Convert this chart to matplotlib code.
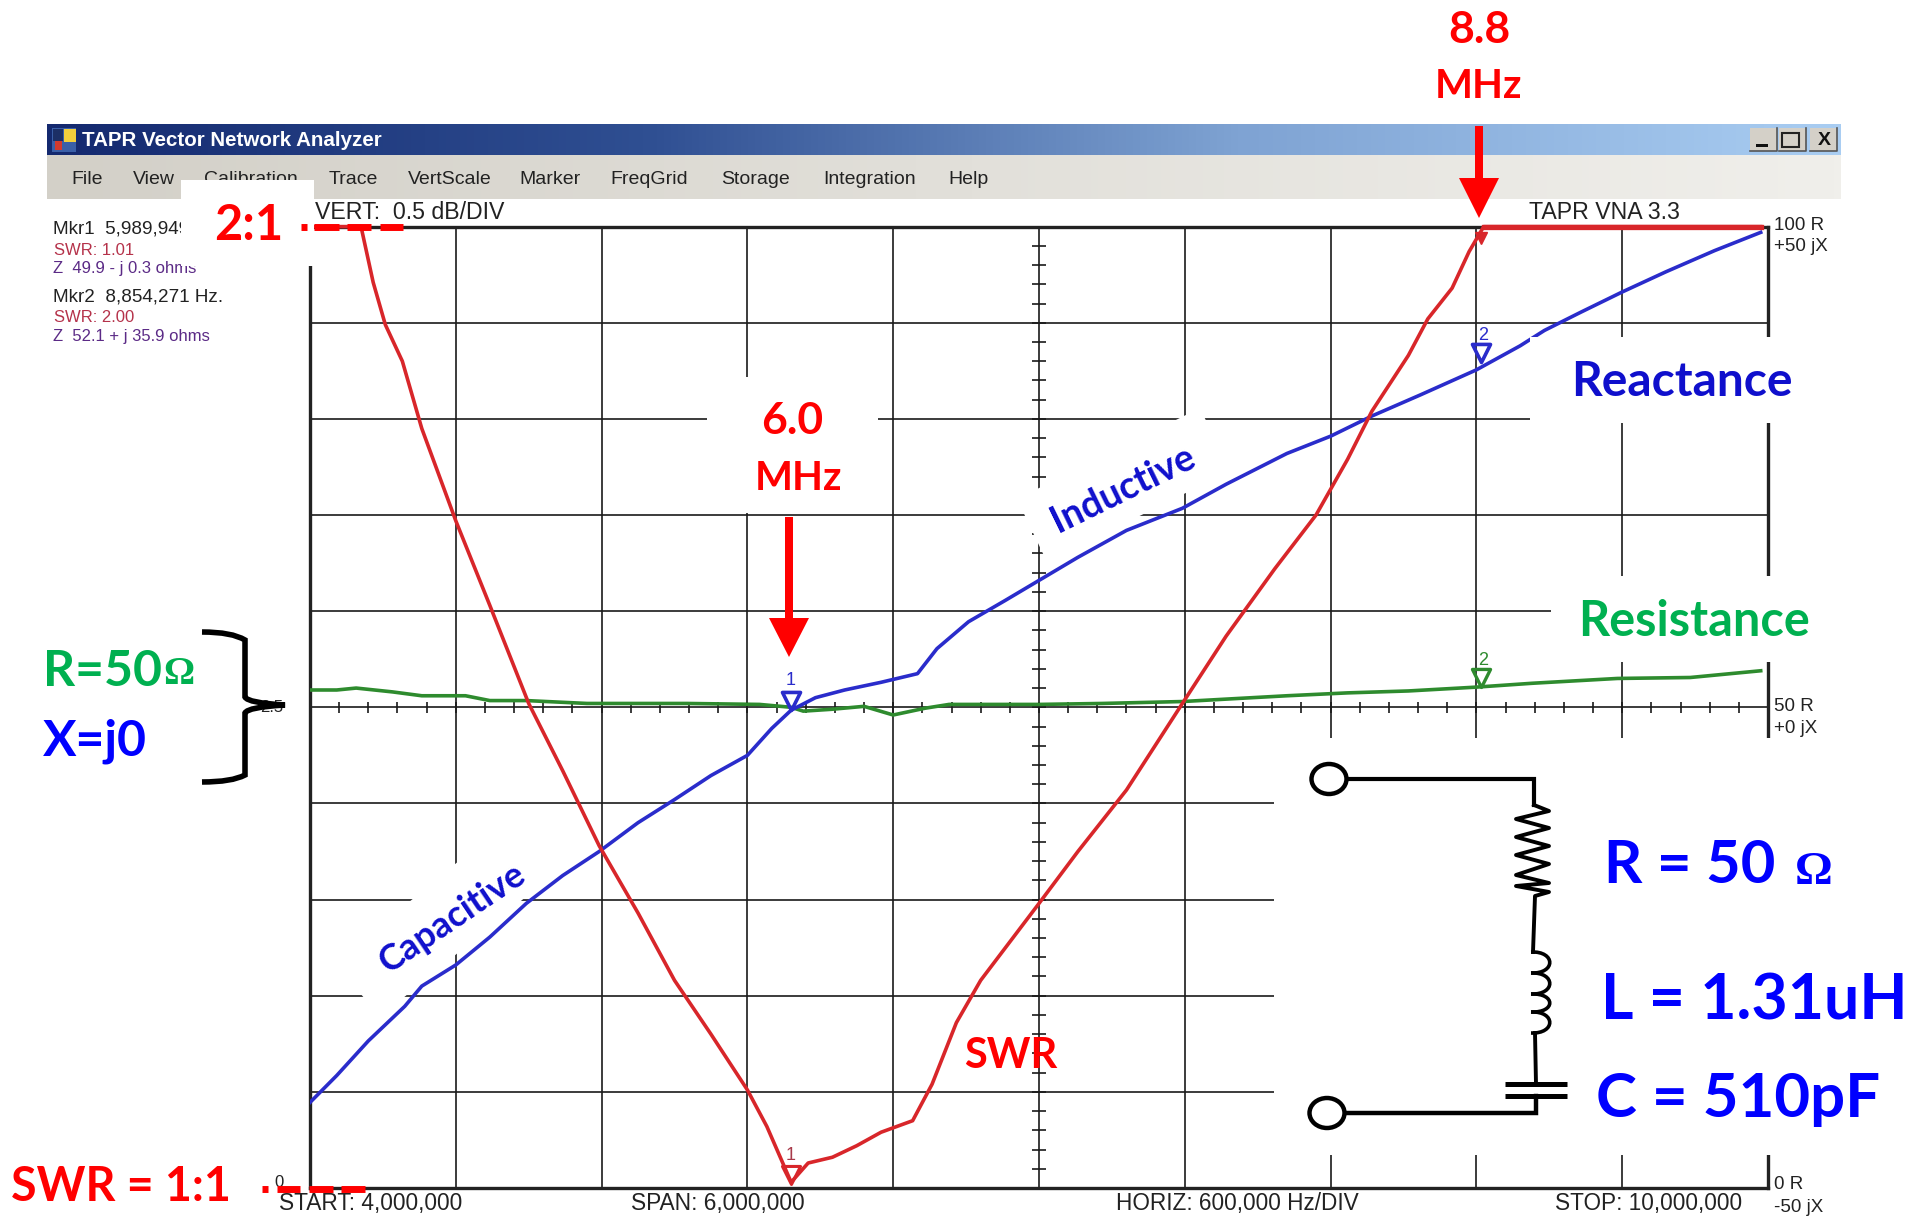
import numpy as np
import matplotlib
matplotlib.use("Agg")
import matplotlib.pyplot as plt
from matplotlib.patches import Rectangle, Polygon, Ellipse, PathPatch, FancyArrow
from matplotlib.path import Path

# reactance trace, ohms
x_freq = [4.00, 4.11, 4.24, 4.39, 4.46, 4.60, 4.74, 4.89, 5.04, 5.19, 5.35, 5.50, 5.65, 5.80, 5.90, 5.98,
          6.08, 6.20, 6.35, 6.50, 6.58, 6.71, 6.86, 7.00, 7.16, 7.36, 7.59, 7.77, 8.02, 8.20, 8.37, 8.57,
          8.80, 8.98, 9.08, 9.23, 9.40, 9.58, 9.78, 9.97]
x_ohm = [-41.1, -38.3, -34.7, -31.1, -29.0, -26.8, -23.9, -20.4, -17.5, -15.0, -12.0, -9.6, -7.1, -5.0, -2.2, -0.3,
         1.0, 1.8, 2.6, 3.5, 6.1, 8.9, 11.1, 13.2, 15.6, 18.4, 20.7, 23.2, 26.4, 28.2, 30.3, 32.5,
         35.1, 37.6, 39.2, 41.1, 43.2, 45.3, 47.5, 49.4]

# resistance trace, ohms
r_freq = [4.00, 4.11, 4.19, 4.34, 4.46, 4.64, 4.74, 4.89, 5.14, 5.55, 5.85, 5.98, 6.03, 6.15, 6.28, 6.40, 6.53,
          6.63, 7.00, 7.26, 7.59, 8.02, 8.27, 8.52, 8.80, 9.03, 9.38, 9.68, 9.97]
r_ohm = [51.8, 51.8, 52.0, 51.6, 51.2, 51.2, 50.7, 50.7, 50.4, 50.4, 50.3, 50.0, 49.6, 49.8, 50.1, 49.2, 49.9,
         50.3, 50.3, 50.4, 50.6, 51.2, 51.5, 51.7, 52.1, 52.5, 53.0, 53.1, 53.8]

# SWR trace on the 0.5 dB/DIV scale
swr_freq = [4.00, 4.21, 4.26, 4.31, 4.38, 4.46, 4.60, 4.74, 4.90, 5.04, 5.19, 5.35, 5.50, 5.65, 5.80, 5.88, 5.98,
            6.05, 6.15, 6.25, 6.35, 6.48, 6.56, 6.66, 6.76, 7.00, 7.16, 7.36, 7.59, 7.77, 7.97, 8.14, 8.27,
            8.37, 8.52, 8.60, 8.70, 8.77, 8.83, 9.97]
swr_db = [5.0, 5.0, 4.71, 4.49, 4.30, 3.95, 3.47, 3.03, 2.52, 2.17, 1.78, 1.43, 1.08, 0.80, 0.51, 0.32, 0.03,
          0.13, 0.16, 0.22, 0.29, 0.35, 0.54, 0.86, 1.08, 1.48, 1.75, 2.07, 2.52, 2.87, 3.22, 3.50, 3.79,
          4.04, 4.33, 4.52, 4.68, 4.87, 5.0, 5.0]

# markers
mkr_freq = [5.98, 8.82]
mkr_x = [-0.3, 35.9]
mkr_r = [49.9, 52.1]
mkr_swr = [0.02, 5.0]

menu_items = ["File", "View", "Calibration", "Trace", "VertScale", "Marker", "FreqGrid", "Storage", "Integration", "Help"]
menu_x = [87, 154, 251, 353, 450, 550, 649, 756, 870, 969]

W, H = 1921, 1217
RED = "#ff0000"
GREEN = "#00b050"
BLUE = "#0000ff"
DBLUE = "#0f0fcc"
SCREEN = ["Liberation Sans"]
NOTE = ["Lato", "DejaVu Sans"]

fig = plt.figure(figsize=(W / 100, H / 100), dpi=100, facecolor="white")

# the plot itself
L, R, T, B = 310, 1768, 226.6, 1188
ax = fig.add_axes([L / W, 1 - B / H, (R - L) / W, (B - T) / H])
ax.set_xlim(4, 10)
ax.set_ylim(0, 100)
ax.set_xticks(np.arange(4, 10.01, 0.6))
ax.set_yticks(np.arange(0, 100.1, 10))
ax.grid(True, color="#1a1a1a", lw=1.2)
ax.tick_params(length=0, labelbottom=False, labelleft=False)
ax.set_axisbelow(True)
for s in ax.spines.values():
    s.set_linewidth(2.4)
    s.set_color("#222222")

# minor ticks on the centre lines
ax.vlines(np.arange(4, 10.01, 0.12), 49.4, 50.6, color="#1a1a1a", lw=1.2)
ax.hlines(np.arange(0, 100.1, 2), 6.973, 7.027, color="#1a1a1a", lw=1.2)

ax2 = ax.twinx()
ax2.set_ylim(0, 5)
ax2.axis("off")

react = np.array(x_ohm) + 50
ax.plot(r_freq, r_ohm, color="#2e8b2e", lw=2.6, zorder=4)
ax.plot(x_freq, react, color="#2a2ccb", lw=2.6, zorder=5)
ax2.plot(swr_freq, swr_db, color="#d8262a", lw=2.6, clip_on=False)
ax2.plot(swr_freq[-2:], swr_db[-2:], color="#d8262a", lw=3.8, clip_on=False)

tri = Path([(-0.5, 1), (0.5, 1), (0, 0), (-0.5, 1)], closed=True)
ax.plot(mkr_freq, np.array(mkr_x) + 50, ls="", marker=tri, ms=26, mfc="none", mec="#2a2ccb", mew=2.6, zorder=6)
ax.plot(mkr_freq[1:], mkr_r[1:], ls="", marker=tri, ms=26, mfc="none", mec="#2e8b2e", mew=2.4, zorder=6)
ax2.plot(mkr_freq[:1], mkr_swr[:1], ls="", marker=tri, ms=26, mfc="none", mec="#d8262a", mew=2.2, clip_on=False)
ax2.plot(mkr_freq[1:], [4.94], ls="", marker="v", ms=9, color="#d8262a", clip_on=False)

# everything around the plot, in picture pixels
ov = fig.add_axes([0, 0, 1, 1], facecolor="none")
ov.axis("off")


def txt(x, y, s, size=14, color="#222222", family=SCREEN, ha="left", weight="normal", rot=0):
    ov.text(x, y + 1.5, s, fontsize=size, color=color, family=family, ha=ha, va="center", weight=weight,
            rotation=rot, rotation_mode="anchor", zorder=3)


def note(x, y, s, size, color, ha="left", rot=0, family=NOTE, weight="bold"):
    ov.text(x, y + 3, s, fontsize=size, color=color, family=family, ha=ha, va="center", weight=weight,
            rotation=rot, rotation_mode="anchor", zorder=5)


def box(x0, y0, x1, y1, color="white", z=3.5):
    ov.add_patch(Rectangle((x0, y0), x1 - x0, y1 - y0, fc=color, ec="none", zorder=z))


# window title and menu bars
ov.imshow(np.linspace(0, 1, 256).reshape(1, -1), extent=[47, 1841, 155, 124], aspect="auto",
          cmap=matplotlib.colors.LinearSegmentedColormap.from_list("t", ["#14296f", "#2f4f92", "#7fa3d3", "#a9cdf2"]))
ov.imshow(np.linspace(0, 1, 256).reshape(1, -1), extent=[47, 1841, 199, 155], aspect="auto",
          cmap=matplotlib.colors.LinearSegmentedColormap.from_list("m", ["#d3d0c8", "#f0efeb"]))
ov.set_xlim(0, W)
ov.set_ylim(H, 0)

box(52, 128, 76, 152, "#3a5fa8", z=1)
box(64, 129, 76, 142, "#f3cf3c", z=1)
box(53, 129, 63, 141, "#1c2f66", z=1)
box(55, 141, 62, 150, "#d23a2e", z=1)
txt(82, 139, "TAPR Vector Network Analyzer", size=14.8, color="white", weight="bold")

for bx in [1750, 1779, 1810]:
    box(bx, 128, bx + 27, 151, "#d4d0c8", z=1)
    ov.plot([bx, bx + 27, bx + 27], [151, 151, 128], color="#555555", lw=1.2)
box(1756, 144, 1768, 147, "#111111", z=2)
ov.add_patch(Rectangle((1782, 133), 17, 14, fc="none", ec="#222222", lw=1.5, zorder=2))
txt(1824, 139, "X", size=14, color="#111111", ha="center", weight="bold")

for mx, name in zip(menu_x, menu_items):
    txt(mx, 178, name, size=14, ha="center")

# left readout
txt(53, 228, "Mkr1  5,989,949 Hz.", size=13.6)
txt(54, 249, "SWR: 1.01", size=12, color="#b5324a")
txt(53, 267, "Z  49.9 - j 0.3 ohms", size=12, color="#5b2a86")
txt(53, 295, "Mkr2  8,854,271 Hz.", size=13.6)
txt(54, 316, "SWR: 2.00", size=12, color="#b5324a")
txt(53, 335, "Z  52.1 + j 35.9 ohms", size=12, color="#5b2a86")

# screen labels
txt(315, 211, "VERT:  0.5 dB/DIV", size=16.7)
txt(1529, 211, "TAPR VNA 3.3", size=16.7)
txt(1774, 224, "100 R", size=13.5)
txt(1774, 245, "+50 jX", size=13.5)
txt(1774, 705, "50 R", size=13.5)
txt(1774, 727, "+0 jX", size=13.5)
txt(1774, 1183, "0 R", size=13.5)
txt(1774, 1206, "-50 jX", size=13.5)
txt(279, 1202, "START: 4,000,000", size=16.4)
txt(631, 1202, "SPAN: 6,000,000", size=16.4)
txt(1116, 1202, "HORIZ: 600,000 Hz/DIV", size=16.3)
txt(1555, 1202, "STOP: 10,000,000", size=16.3)
txt(260, 706, "2.5", size=12)
txt(274, 1181, "0", size=12)
txt(791, 679, "1", size=13, color="#2a2ccb", ha="center")
txt(1483, 334, "2", size=13, color="#2a2ccb", ha="center")
txt(1483, 659, "2", size=13, color="#2e8b2e", ha="center")
txt(791, 1154, "1", size=13, color="#a83a4a", ha="center")

# white label patches pasted over the screenshot
box(181, 180, 314, 266)
box(707, 377, 878, 513)
box(1530, 337, 1800, 423)
box(1551, 576, 1830, 662)
box(1274, 738, 1921, 1155)
ov.add_patch(Polygon([(1017, 499), (1200, 408), (1230, 471), (1047, 562)], fc="white", ec="none", zorder=3.5))
ov.add_patch(Polygon([(335, 963), (505, 823), (550, 877), (380, 1017)], fc="white", ec="none", zorder=3.5))

# dashes at the 2:1 and 1:1 levels
for x0, x1 in [(301, 307), (314, 339), (347, 371), (380, 403)]:
    ov.plot([x0, x1], [226.7, 226.7], color=RED, lw=5, solid_capstyle="butt", zorder=4)
for x0, x1 in [(262, 268), (277, 300), (309, 333), (341, 365)]:
    ov.plot([x0, x1], [1189, 1189], color=RED, lw=5, solid_capstyle="butt", zorder=4)

# arrows
ov.add_patch(FancyArrow(789, 517, 0, 140, width=8, head_width=40, head_length=39, length_includes_head=True,
                        color=RED, lw=0, zorder=4))
ov.add_patch(FancyArrow(1479, 126, 0, 92, width=8, head_width=40, head_length=40, length_includes_head=True,
                        color=RED, lw=0, zorder=4))

# big labels
note(1479, 27, "8.8", 32, RED, ha="center")
note(1479, 84, "MHz", 29, RED, ha="center")
note(792, 418, "6.0", 32, RED, ha="center")
note(798, 475, "MHz", 29, RED, ha="center")
note(214, 222, "2:1", 35, RED)
note(11, 1184, "SWR = 1:1", 33.5, RED)
note(964, 1053, "SWR", 30, RED)
note(43, 668, "R=50", 36, GREEN)
note(163, 672, "\u03a9", 28, GREEN, family="Liberation Serif")
note(43, 738, "X=j0", 36, BLUE)
note(1571, 379, "Reactance", 34.5, DBLUE)
note(1578, 618, "Resistance", 35, GREEN)
note(1123, 486, "Inductive", 27, DBLUE, ha="center", rot=26)
note(452, 915, "Capacitive", 26, DBLUE, ha="center", rot=34)
note(1604, 863, "R = 50", 43, BLUE)
note(1795, 870, "\u03a9", 34, BLUE, family="Liberation Serif")
note(1601, 998, "L = 1.31uH", 45, BLUE)
note(1596, 1096, "C = 510pF", 44.5, BLUE)

# brace
brace = Path([(202, 632), (232, 632), (245, 640), (245, 697), (248, 703), (285, 705),
              (248, 707), (245, 713), (245, 775), (232, 782), (202, 782)],
             [Path.MOVETO, Path.CURVE3, Path.CURVE3, Path.LINETO, Path.CURVE3, Path.CURVE3,
              Path.CURVE3, Path.CURVE3, Path.LINETO, Path.CURVE3, Path.CURVE3])
ov.add_patch(PathPatch(brace, fc="none", ec="black", lw=4, zorder=4))

# circuit
ov.plot([1347, 1534, 1534], [779, 779, 805], color="black", lw=3, solid_joinstyle="miter", zorder=4)
ov.plot([1534, 1549, 1516, 1549, 1516, 1549, 1516, 1549, 1516, 1549, 1516, 1549, 1535, 1533],
        [805, 811, 819, 828, 837, 846, 855, 864, 875, 883, 886, 892, 896, 952], color="black", lw=2.8, zorder=4)
coil = [952, 973, 994, 1012, 1033]
for y0, y1 in zip(coil[:-1], coil[1:]):
    ov.add_patch(PathPatch(Path([(1531, y0), (1556, y0 - 1), (1556, y1 + 1), (1531, y1)],
                                [Path.MOVETO, Path.CURVE4, Path.CURVE4, Path.CURVE4]),
                           fc="none", ec="black", lw=2.6, zorder=4))
ov.plot([1535, 1536], [1033, 1084], color="black", lw=2.8, zorder=4)
ov.plot([1505, 1567], [1084, 1084], color="black", lw=3.6, solid_capstyle="butt", zorder=4)
ov.plot([1505, 1567], [1096, 1096], color="black", lw=3.6, solid_capstyle="butt", zorder=4)
ov.plot([1536, 1536, 1344], [1096, 1113, 1113], color="black", lw=3.2, solid_joinstyle="miter", zorder=4)
ov.add_patch(Ellipse((1329, 779), 35, 30, fc="white", ec="black", lw=3.2, zorder=4))
ov.add_patch(Ellipse((1327, 1113), 35, 30, fc="white", ec="black", lw=3.2, zorder=4))

fig.savefig("out.png", dpi=100)
